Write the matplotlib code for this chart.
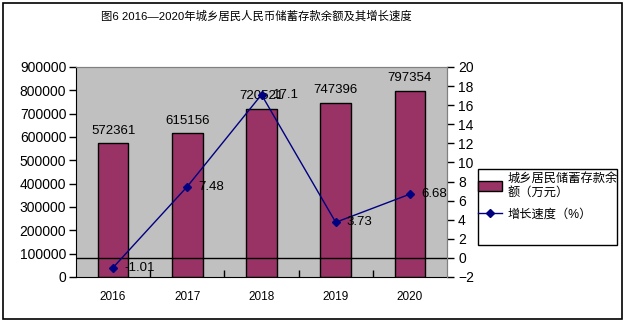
import matplotlib
matplotlib.use("Agg")
import matplotlib.pyplot as plt
import matplotlib.ticker as mtick
from matplotlib.patches import Rectangle
import numpy as np

plt.rcParams['font.family'] = ['Liberation Sans', 'Noto Sans CJK SC']

# data
years = ['2016', '2017', '2018', '2019', '2020']
deposits = [572361, 615156, 720521, 747396, 797354]   # 万元
growth = [-1.01, 7.48, 17.1, 3.73, 6.68]              # %

title = '图6 2016—2020年城乡居民人民币储蓄存款余额及其增长速度'
bar_name = '城乡居民储蓄存款余\n额（万元）'
line_name = '增长速度（%）'

bar_color = '#993366'
line_color = '#000080'

fig = plt.figure(figsize=(6.26, 3.25), dpi=100)
# outer chart border
fig.patches.append(Rectangle((3 / 626, 1 - 319 / 325), 619 / 626, 316 / 325,
                             transform=fig.transFigure, fill=False,
                             edgecolor='black', linewidth=1.2))

ax = fig.add_axes([76 / 626, 1 - 277 / 325, 371 / 626, 210 / 325])
ax.set_facecolor('#C0C0C0')

x = np.arange(len(years))
bars = ax.bar(x, deposits, width=0.41, color=bar_color, edgecolor='black',
              linewidth=1, zorder=2)
ax.set_xlim(-0.5, len(years) - 0.5)
ax.set_ylim(0, 900000)
ax.yaxis.set_major_locator(mtick.MultipleLocator(100000))
ax.set_xticks(x)
ax.set_xticklabels(years, fontsize=8.5)
ax.set_xticks(np.arange(0.5, len(years) - 1, 1), minor=True)
ax.tick_params(axis='x', which='major', length=0, pad=10)
ax.tick_params(axis='x', which='minor', direction='in', length=5, width=1)
ax.tick_params(axis='y', direction='out', length=5, width=1, labelsize=10, pad=2)

for s in ['left', 'bottom']:
    ax.spines[s].set_color('black')
for s in ['top', 'right']:
    ax.spines[s].set_color('#808080')

for xi, v in zip(x, deposits):
    ax.annotate(f'{v}', (xi, v), xytext=(0, 5), textcoords='offset points',
                ha='center', va='bottom', fontsize=9.5, zorder=4)

# growth rate on the secondary axis
ax2 = ax.twinx()
ax2.set_ylim(-2, 20)
ax2.yaxis.set_major_locator(mtick.MultipleLocator(2))
ax2.tick_params(axis='y', direction='out', length=5, width=1, labelsize=10, pad=3)
ax2.axhline(0, color='black', linewidth=1, zorder=1)
ax2.plot(x, growth, color=line_color, linewidth=1, marker='D', markersize=4,
         zorder=3)
for s in ['left', 'bottom']:
    ax2.spines[s].set_visible(False)
ax2.spines['right'].set_color('#808080')
ax2.spines['top'].set_color('#808080')

for xi, v in zip(x, growth):
    ax2.annotate(f'{v}', (xi, v), xytext=(8, 0), textcoords='offset points',
                 ha='left', va='center', fontsize=9.5, zorder=4)

fig.text(0.410, 1 - 16 / 325, title, ha='center', va='center', fontsize=8.2)

# legend
fig.patches.append(Rectangle((478 / 626, 1 - 245 / 325), 139 / 626, 76 / 325,
                             transform=fig.transFigure, facecolor='white',
                             edgecolor='black', linewidth=1))
handles = [bars,
           plt.Line2D([], [], color=line_color, linewidth=1, marker='D',
                      markersize=4)]
fig.legend(handles, [bar_name, line_name], loc='upper left',
           bbox_to_anchor=(478 / 626, 1 - 173 / 325),
           bbox_transform=fig.transFigure, frameon=False, fontsize=8.8,
           handlelength=2.0, handleheight=0.9, handletextpad=0.4,
           borderaxespad=0, borderpad=0, labelspacing=0.8)

fig.savefig('out.png', dpi=100)
